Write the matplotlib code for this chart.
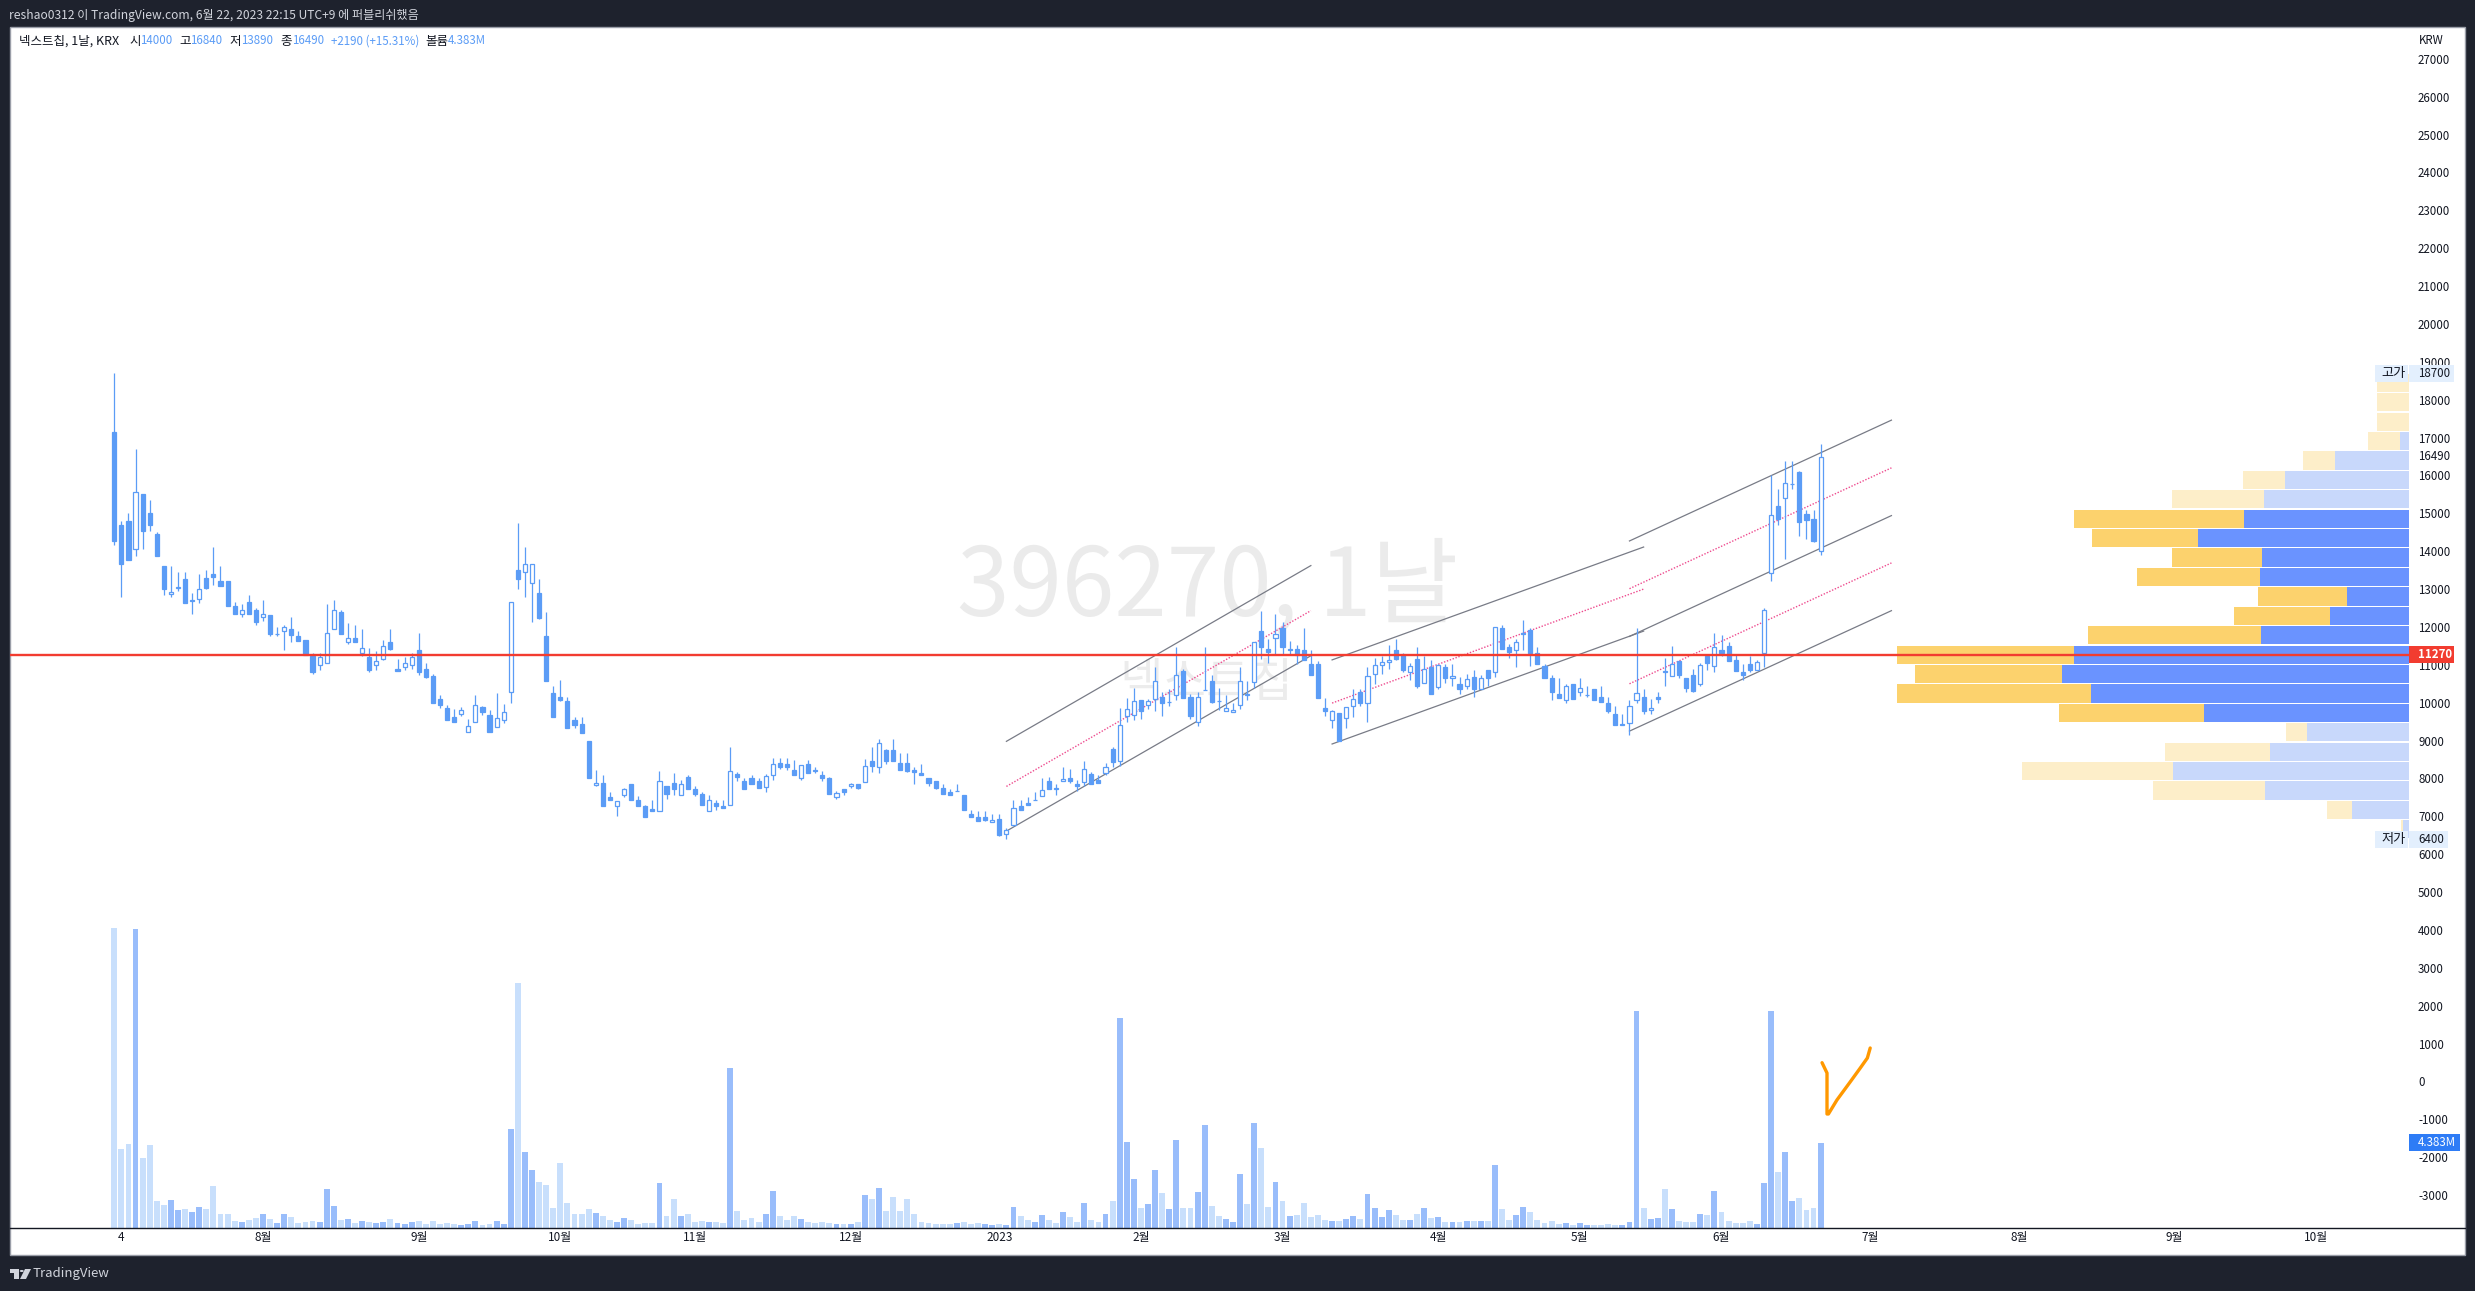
"""Nextchip daily chart, TradingView snapshot."""
import matplotlib
matplotlib.use("Agg")
import matplotlib.pyplot as plt
from matplotlib.patches import Rectangle, Polygon, Circle
from matplotlib.lines import Line2D
from matplotlib.transforms import IdentityTransform

plt.rcParams['font.family'] = ['Noto Sans CJK KR', 'DejaVu Sans']

# daily candles
opens = [17150, 14690, 14790, 14050, 15510, 15000, 14460, 13610, 12880, 13040,
         13270, 12700, 12750, 13290, 13400, 13220, 13220, 12560, 12340, 12660,
         12450, 12260, 12320, 11820, 11880, 11950, 11760, 11660, 11240, 10990,
         11040, 11940, 12400, 11590, 11700, 11300, 11200, 10990, 11150, 11600,
         10880, 10940, 10990, 11380, 10880, 10710, 10100, 9860, 9620, 9700,
         9220, 9480, 9890, 9680, 9350, 9550, 10290, 13510, 13440, 13150,
         12900, 11760, 10260, 10150, 10050, 9550, 9450, 9000, 7820, 7890,
         7520, 7270, 7560, 7860, 7440, 7260, 7200, 7130, 7810, 7890,
         7560, 8050, 7730, 7600, 7130, 7340, 7280, 7290, 8130, 7940,
         8020, 7940, 7770, 8080, 8420, 8370, 8230, 8010, 8370, 8230,
         8080, 8000, 7500, 7710, 7790, 7860, 7900, 8450, 8300, 8760,
         8760, 8420, 8420, 8230, 8150, 8000, 7920, 7760, 7650, 7670,
         7570, 7070, 6990, 6970, 6840, 6940, 6530, 6760, 7260, 7360,
         7440, 7540, 7940, 7760, 7930, 8020, 7860, 7900, 8130, 7970,
         8150, 8790, 8470, 9640, 9670, 10080, 9950, 10100, 10160, 10020,
         10200, 10850, 10160, 9490, 10340, 10580, 10050, 9770, 9750, 9930,
         10230, 10540, 11900, 11430, 11710, 11960, 11430, 11430, 11400, 11030,
         11030, 9870, 9550, 9740, 9600, 9910, 10270, 9990, 10760, 11000,
         11080, 11400, 11270, 10810, 11160, 10520, 10930, 10410, 10950, 10650,
         10500, 10430, 10690, 10350, 10870, 10810, 11960, 11460, 11380, 11850,
         11930, 11320, 10980, 10640, 10240, 10060, 10500, 10280, 10210, 10370,
         10160, 9980, 9690, 9440, 9460, 10070, 10160, 9810, 10160, 10840,
         10700, 11090, 10640, 10720, 10490, 11220, 10980, 11380, 11510, 11140,
         10820, 11030, 10860, 11300, 13430, 15200, 15400, 15780, 16100, 14970,
         14860, 14000]
highs = [18700, 14790, 15000, 16700, 15510, 15350, 14500, 13610, 13610, 13450,
         13450, 12900, 13400, 13510, 14110, 13610, 13220, 12660, 12610, 12850,
         12500, 12710, 12320, 12000, 12050, 12260, 11900, 11660, 11310, 11310,
         12610, 12710, 12440, 12110, 12050, 11950, 11450, 11370, 11660, 11950,
         11160, 11200, 11310, 11840, 11050, 10760, 10210, 9940, 9840, 9890,
         9570, 10210, 9910, 9810, 10260, 9970, 12650, 14750, 14110, 13660,
         13270, 12400, 10440, 10600, 10150, 9630, 9630, 9000, 8230, 8100,
         7630, 7410, 7760, 7860, 7550, 7310, 7440, 8210, 7810, 8150,
         7970, 8100, 7790, 7630, 7570, 7420, 7420, 8840, 8180, 8000,
         8080, 8000, 8130, 8550, 8550, 8550, 8500, 8360, 8500, 8310,
         8210, 8050, 7680, 7710, 7890, 7860, 8520, 8820, 9030, 8790,
         9050, 8660, 8660, 8310, 8370, 8020, 7940, 7860, 7730, 7860,
         7570, 7180, 7130, 7150, 7050, 7050, 6680, 7440, 7420, 7500,
         7650, 8000, 8050, 7860, 8290, 8260, 7970, 8450, 8180, 8080,
         8420, 8820, 9870, 10130, 10400, 10080, 10110, 10950, 10290, 10370,
         11480, 10900, 10240, 10270, 11460, 10720, 10400, 10210, 9980, 10950,
         10560, 11600, 12430, 11670, 12330, 12140, 11640, 11530, 11960, 11400,
         11110, 10130, 9820, 9740, 9890, 10350, 10370, 10950, 11190, 11240,
         11530, 11670, 11320, 11060, 11480, 11240, 11140, 11030, 11010, 11010,
         10690, 10770, 10870, 10720, 10870, 12000, 12060, 11560, 11670, 12190,
         11960, 11480, 11030, 10740, 10640, 10500, 10500, 10640, 10450, 10370,
         10430, 10160, 9920, 9710, 10080, 11960, 10370, 10110, 10290, 11190,
         11510, 11110, 10640, 10900, 11060, 11270, 11850, 11800, 11610, 11270,
         11010, 11240, 11140, 12510, 16000, 15650, 16390, 16370, 16130, 15100,
         15100, 16840]
lows = [14170, 12780, 13780, 13860, 14060, 14520, 13860, 12850, 12800, 12960,
        12640, 12330, 12620, 13010, 13110, 13090, 12540, 12330, 12270, 12330,
        12060, 12170, 11770, 11770, 11400, 11610, 11640, 11270, 10770, 10870,
        11040, 11940, 11820, 11560, 11590, 11220, 10820, 10870, 11120, 11400,
        10850, 10870, 10900, 10720, 10660, 9980, 9870, 9550, 9500, 9650,
        9220, 9480, 9680, 9230, 9350, 9470, 9990, 13010, 12780, 12120,
        12210, 10580, 9610, 10050, 9330, 9340, 9210, 8000, 7790, 7280,
        7420, 7020, 7500, 7440, 7260, 6990, 7130, 7130, 7470, 7570,
        7560, 7710, 7550, 7310, 7130, 7180, 7230, 7290, 7920, 7730,
        7860, 7760, 7630, 7970, 8260, 8230, 8080, 7970, 8150, 8150,
        7940, 7600, 7470, 7570, 7760, 7730, 7900, 8180, 8150, 8370,
        8450, 8230, 8180, 7860, 8100, 7810, 7710, 7600, 7570, 7660,
        7180, 6990, 6890, 6890, 6840, 6490, 6400, 6740, 7180, 7300,
        7430, 7540, 7730, 7570, 7920, 7890, 7680, 7790, 7860, 7890,
        8100, 8310, 8340, 9500, 9550, 9580, 9840, 9770, 9660, 9920,
        10080, 10130, 9580, 9380, 10330, 10000, 9820, 9770, 9750, 9840,
        10060, 10400, 11160, 11060, 11270, 11270, 11270, 11030, 11120, 10720,
        10120, 9660, 9340, 9000, 9340, 9630, 9920, 9480, 10500, 10770,
        10900, 11140, 10820, 10610, 10400, 10520, 10240, 10350, 10530, 10430,
        10240, 10370, 10160, 10350, 10450, 10690, 11430, 11190, 10950, 11400,
        10980, 11010, 10640, 10080, 10130, 9980, 10110, 10190, 10160, 10060,
        10030, 9740, 9420, 9400, 9160, 9980, 9690, 9690, 10000, 10450,
        10700, 10660, 10290, 10290, 10450, 10870, 10820, 11220, 11110, 10850,
        10610, 10820, 10860, 10930, 13200, 14680, 13800, 15630, 14410, 14330,
        14230, 13890]
closes = [14280, 13650, 13780, 15560, 14540, 14680, 13880, 12990, 12930, 13050,
          12640, 12690, 13000, 13040, 13320, 13090, 12540, 12330, 12440, 12330,
          12140, 12340, 11820, 11810, 11990, 11800, 11640, 11270, 10800, 11200,
          11830, 12440, 11820, 11700, 11590, 11440, 10870, 11090, 11490, 11430,
          10850, 11040, 11200, 10800, 10690, 9980, 9950, 9550, 9500, 9800,
          9380, 9930, 9760, 9230, 9590, 9750, 12650, 13270, 13660, 13660,
          12240, 10580, 9610, 10070, 9330, 9420, 9210, 8000, 7880, 7280,
          7420, 7410, 7720, 7440, 7280, 6990, 7130, 7930, 7600, 7730,
          7860, 7710, 7600, 7310, 7430, 7260, 7230, 8200, 8050, 7730,
          7860, 7760, 8070, 8380, 8310, 8310, 8080, 8360, 8150, 8210,
          8020, 7600, 7620, 7630, 7860, 7760, 8330, 8340, 8940, 8450,
          8470, 8230, 8210, 8180, 8100, 7890, 7760, 7600, 7570, 7660,
          7180, 6990, 6890, 6910, 6910, 6520, 6640, 7220, 7180, 7310,
          7430, 7700, 7730, 7710, 7990, 7940, 7790, 8250, 7860, 7890,
          8300, 8430, 9400, 9840, 10050, 9790, 10050, 10580, 9980, 10010,
          10730, 10130, 9660, 10150, 10330, 10030, 10040, 9860, 9810, 10580,
          10200, 11600, 11480, 11350, 11820, 11460, 11380, 11270, 11140, 10720,
          10120, 9790, 9780, 9000, 9890, 10100, 10000, 10710, 11000, 11080,
          11130, 11160, 10870, 10970, 10450, 10890, 10240, 11000, 10640, 10710,
          10370, 10630, 10350, 10650, 10640, 12000, 11430, 11350, 11600, 11810,
          11300, 11010, 10640, 10290, 10130, 10440, 10110, 10390, 10200, 10060,
          10030, 9770, 9420, 9400, 9920, 10260, 9790, 9860, 10110, 10800,
          11020, 10720, 10400, 10320, 11000, 11060, 11470, 11320, 11110, 10850,
          10720, 10870, 11080, 12450, 14960, 14860, 15800, 15770, 14760, 14830,
          14280, 16490]

# volume in millions, bright flag: D = darker bar, L = pale bar
volumes = [15.46, 4.07, 4.33, 15.41, 3.61, 4.28, 1.39, 1.19, 1.44, 0.93,
           0.98, 0.82, 1.08, 0.98, 2.16, 0.72, 0.72, 0.36, 0.31, 0.41,
           0.52, 0.72, 0.46, 0.26, 0.72, 0.57, 0.26, 0.31, 0.36, 0.31,
           2.01, 1.13, 0.41, 0.46, 0.26, 0.36, 0.31, 0.26, 0.31, 0.46,
           0.26, 0.21, 0.31, 0.36, 0.21, 0.36, 0.21, 0.26, 0.21, 0.15,
           0.21, 0.36, 0.15, 0.21, 0.36, 0.21, 5.10, 12.63, 3.92, 2.99,
           2.37, 2.22, 1.03, 3.35, 1.29, 0.72, 0.72, 0.98, 0.77, 0.62,
           0.41, 0.31, 0.52, 0.41, 0.21, 0.26, 0.26, 2.32, 0.62, 1.49,
           0.62, 0.72, 0.31, 0.36, 0.31, 0.30, 0.25, 8.25, 0.90, 0.40,
           0.50, 0.30, 0.70, 1.90, 0.60, 0.40, 0.60, 0.45, 0.30, 0.25,
           0.30, 0.25, 0.20, 0.20, 0.20, 0.30, 1.70, 1.50, 2.05, 0.90,
           1.60, 0.90, 1.50, 0.70, 0.30, 0.25, 0.20, 0.20, 0.21, 0.26,
           0.31, 0.21, 0.26, 0.21, 0.15, 0.21, 0.15, 1.08, 0.62, 0.41,
           0.31, 0.67, 0.41, 0.26, 0.82, 0.57, 0.31, 1.29, 0.41, 0.31,
           0.72, 1.39, 10.82, 4.43, 2.53, 1.03, 1.24, 2.99, 1.80, 0.98,
           4.54, 1.03, 1.03, 1.86, 5.31, 1.13, 0.62, 0.46, 0.31, 2.78,
           1.24, 5.41, 4.12, 1.08, 2.37, 1.39, 0.62, 0.67, 1.29, 0.57,
           0.67, 0.41, 0.36, 0.36, 0.46, 0.62, 0.46, 1.75, 1.03, 0.57,
           0.93, 0.67, 0.41, 0.41, 0.72, 1.03, 0.52, 0.57, 0.31, 0.31,
           0.31, 0.36, 0.36, 0.36, 0.36, 3.25, 0.98, 0.41, 0.67, 1.08,
           0.82, 0.41, 0.26, 0.36, 0.21, 0.26, 0.15, 0.26, 0.15, 0.15,
           0.15, 0.21, 0.15, 0.15, 0.31, 11.19, 1.03, 0.46, 0.52, 2.01,
           0.98, 0.36, 0.31, 0.31, 0.72, 0.67, 1.91, 0.82, 0.36, 0.26,
           0.26, 0.36, 0.21, 2.32, 11.19, 2.89, 3.92, 1.39, 1.55, 0.93,
           1.03, 4.383]
vol_flags = ("LLLDLLLLDD" "LDDLLLLLDL" "LDLDDLLLLD" "DDLDLDLDDL" "DDDLLLLLLD"
             "DDLLDDDLDD" "LLLLLLLLDL" "LDDLLLLDLL" "DLLLDLLDLL" "LLDDLLLDLL"
             "LLDLDLDLDL" "LLLLLLLLLD" "LLLDDLDDLL" "DDLLDLLDLL" "DLDDDLDDLD"
             "DLLDDLLDDD" "LDLLDLDLLL" "LLDLDDLDDD" "DLLDLDLDLD" "LDLDLDLLDD"
             "LLLLLDLDDL" "LLLDDDLDDL" "DLLLDLDLLL" "LLDDDLDDLLLD")

# visible range volume profile, top row first
vp_top = 18700
vp_step = 512.5
vp_up = [0, 0, 0, 9.1, 74.0, 124.1, 145.0, 165.1, 211.0, 146.9, 149.1, 61.9,
         78.9, 148.0, 335.1, 346.9, 318.0, 204.9, 102.1, 138.9, 236.1, 143.8,
         56.9, 6.1]
vp_down = [31.9, 31.9, 31.9, 31.9, 31.9, 41.7, 91.8, 170.0, 105.9, 89.9, 123.0,
           89.2, 96.0, 173.1, 176.9, 147.2, 193.9, 145.0, 20.9, 105.1, 151.0,
           112.3, 25.0, 1.9]
vp_in_area = [0, 0, 0, 0, 0, 0, 0, 1, 1, 1, 1, 1, 1, 1, 1, 1, 1, 1, 0, 0, 0, 0, 0, 0]

# drawings: (bar, price) -> (bar, price)
gray_lines = [((126, 8980), (169, 13620)), ((126, 6610), (169, 11240)),
              ((172, 11130), (216, 14110)), ((172, 8910), (216, 11890)),
              ((214, 14270), (251, 17460)), ((214, 11750), (251, 14940)),
              ((214, 9250), (251, 12430))]
pink_lines = [((126, 7790), (169, 12430)), ((172, 9990), (216, 13000)),
              ((214, 13010), (251, 16200)), ((214, 10500), (251, 13690))]
check_bars = [241.2, 241.9, 241.9, 241.9, 242.1, 243.3, 245.2, 246.6, 247.6, 248.0]
check_prices = [496, 224, -225, -858, -858, -489, -5, 356, 620, 884]

price_ticks = list(range(-3000, 27001, 1000))
month_bars = [1, 21, 43, 63, 82, 104, 125, 145, 165, 187, 207, 227, 248, 269, 291, 311]
month_labels = ['4', '8월', '9월', '10월', '11월', '12월', '2023', '2월', '3월', '4월',
                '5월', '6월', '7월', '8월', '9월', '10월']
hline_price = 11270

DARK = '#1e222d'
BLUE = '#5b9cf6'
TXT = '#131722'
W, H = 2475, 1291


def box(x0, y0, x1, y1):
    # pixel box measured from the top left -> figure fractions
    return [x0 / W, 1 - y1 / H, (x1 - x0) / W, (y1 - y0) / H]


fig = plt.figure(figsize=(W / 100, H / 100), dpi=100, facecolor=DARK)
fig.add_artist(Rectangle((10 / W, 1 - 1255 / H), 2455 / W, 1228 / H, transform=fig.transFigure,
                         fc='white', ec='#9a9ea8', lw=1, zorder=-1))

rect = box(10, 27, 2409, 1228)
ax = fig.add_axes(rect, zorder=1)
ax.patch.set_visible(False)
ax.set_xlim(-14.73, 324.1)
ax.set_ylim(-3868, 27839)

# volume goes behind the candles
ax_vol = ax.twinx()
ax_vol.set_zorder(0.2)
ax_vol.patch.set_visible(False)
ax_vol.set_ylim(0, 61.9)
ax_vol.axis('off')
xs = list(range(len(opens)))
ax_vol.bar(xs, volumes, width=0.83,
           color=['#99bdfb' if f == 'D' else '#c8dffc' for f in vol_flags], linewidth=0)

# profile has its own x scale running leftwards from the price scale
ax_vp = fig.add_axes(rect, zorder=0.5)
ax_vp.patch.set_visible(False)
ax_vp.axis('off')
ax_vp.set_xlim(2399, 0)
ax_vp.set_ylim(-3868, 27839)
vp_y = [vp_top - vp_step * (i + 0.5) for i in range(len(vp_up))]
ax_vp.barh(vp_y, vp_up, height=vp_step * 0.94, linewidth=0,
           color=['#6a93ff' if a else '#c8d8fb' for a in vp_in_area])
ax_vp.barh(vp_y, vp_down, left=vp_up, height=vp_step * 0.94, linewidth=0,
           color=['#fcd26d' if a else '#fdeec9' for a in vp_in_area])

# candles
ax.vlines(xs, lows, highs, color=BLUE, lw=0.9, zorder=3)
body_low = [min(o, c) for o, c in zip(opens, closes)]
body_h = [abs(o - c) for o, c in zip(opens, closes)]
faces = ['white' if c > o else BLUE for o, c in zip(opens, closes)]
ax.bar(xs, body_h, bottom=body_low, width=0.58, color=faces, edgecolor=BLUE, linewidth=0.9, zorder=3.5)

for a, b in gray_lines:
    ax.plot([a[0], b[0]], [a[1], b[1]], color='#787b86', lw=0.9, zorder=2)
for a, b in pink_lines:
    ax.plot([a[0], b[0]], [a[1], b[1]], color='#ee4a8e', lw=1.0, ls=(0, (1, 1.2)), zorder=2)
ax.plot(check_bars, check_prices, color='#ff9800', lw=2.4, solid_capstyle='round',
        solid_joinstyle='round', zorder=4)
ax.axhline(hline_price, color='#f23c30', lw=1.7, zorder=5)

ax.yaxis.tick_right()
ax.set_yticks(price_ticks)
ax.set_yticklabels([str(p) for p in price_ticks], fontsize=8.3, color=TXT)
ax.set_xticks(month_bars)
ax.set_xticklabels(month_labels, fontsize=8.5, color=TXT)
ax.tick_params(axis='y', length=0, pad=6.5, right=True, left=False)
ax.tick_params(axis='x', length=0, pad=2)
for s in ax.spines.values():
    s.set_visible(False)
fig.add_artist(Line2D([10 / W, 2465 / W], [1 - 1228 / H] * 2, color=TXT, lw=1, zorder=2))


def tag(y_disp, x0, x1, half, fc):
    fig.add_artist(Rectangle((x0, y_disp - half), x1 - x0, 2 * half, transform=IdentityTransform(),
                             fc=fc, ec='none', zorder=5))


def px_text(x, y, s, **kw):
    kw.setdefault('fontsize', 8.3)
    kw.setdefault('color', TXT)
    kw.setdefault('va', 'center')
    kw.setdefault('zorder', 6)
    return fig.text(x / W, 1 - y / H, s, **kw)


def price_y(p):
    return ax.transData.transform((0, p))[1]


# tags on the price scale
for price, name, x_end in ((18700, '고가', 2454), (6400, '저가', 2448)):
    yd = price_y(price)
    tag(yd, 2375, 2408, 8.5, '#e3effd')
    tag(yd, 2409, x_end, 8.5, '#e3effd')
    px_text(2381, H - yd, name, fontsize=9.5)
    px_text(2418, H - yd, str(price))
yd = price_y(16490)
tag(yd, 2410, 2454, 7, 'white')
px_text(2418, H - yd, '16490')
yd = price_y(hline_price)
tag(yd, 2409, 2454, 8.5, '#f23c30')
px_text(2418, H - yd, '11270', color='white', fontweight='bold')
yd = ax_vol.transData.transform((0, volumes[-1]))[1]
tag(yd, 2409, 2460, 8.5, '#2e7cf6')
px_text(2418, H - yd, '4.383M', color='white')
px_text(2419, 41, 'KRW')

# watermark
px_text(1208, 588, '396270, 1날', fontsize=68, color='#ebebeb', ha='center', zorder=0.1)
px_text(1206, 684, '넥스트칩', fontsize=34, color='#ececec', ha='center', zorder=0.1)

# header
px_text(9, 15, 'reshao0312 이 TradingView.com, 6월 22, 2023 22:15 UTC+9 에 퍼블리쉬했음',
        color='#d1d4dc', fontsize=8.7)
legend_items = [(19, '넥스트칩, 1날, KRX', TXT, 9), (129, '시', TXT, 9), (140, '14000', BLUE, 8.3),
                (179, '고', TXT, 9), (190.5, '16840', BLUE, 8.3), (229.5, '저', TXT, 9),
                (241, '13890', BLUE, 8.3), (280.5, '종', TXT, 9), (292, '16490', BLUE, 8.3),
                (331.4, '+2190 (+15.31%)', BLUE, 8.3), (425, '볼륨', TXT, 9), (448, '4.383M', BLUE, 8.3)]
for lx, s, c, fs in legend_items:
    px_text(lx, 41, s, color=c, fontsize=fs)

# footer logo
tr = fig.transFigure
logo = '#d1d4dc'
fig.add_artist(Rectangle((10 / W, 1 - 1273 / H), 9 / W, 4 / H, transform=tr, fc=logo, ec='none'))
fig.add_artist(Rectangle((14 / W, 1 - 1279 / H), 5 / W, 7 / H, transform=tr, fc=logo, ec='none'))
fig.add_artist(Circle((217.5 / 10 / W, 1 - 1271 / H), 2 / W, transform=tr, fc=logo, ec='none'))
fig.add_artist(Polygon([[20 / W, 1 - 1279 / H], [25 / W, 1 - 1269 / H], [31 / W, 1 - 1269 / H],
                        [26 / W, 1 - 1279 / H]], transform=tr, fc=logo, ec='none'))
px_text(33, 1274, 'TradingView', color=logo, fontsize=9.5, fontweight='medium')

fig.savefig('out.png')
